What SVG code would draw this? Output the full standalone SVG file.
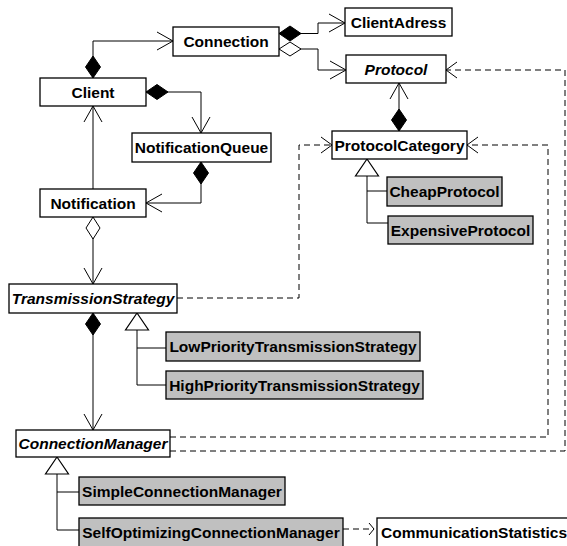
<svg xmlns="http://www.w3.org/2000/svg" width="567" height="546" viewBox="0 0 567 546">
<style>
.box{fill:#fff;stroke:#000;stroke-width:1.3}
.sub{fill:#c0c0c0;stroke:#000;stroke-width:1.3}
text{font-family:"Liberation Sans",Arial,sans-serif;font-weight:bold;font-size:15.5px;fill:#000;text-anchor:middle}
.it{font-style:italic}
.ln{fill:none;stroke:#000;stroke-width:1}
.dash{fill:none;stroke:#000;stroke-width:1;stroke-dasharray:6,4}
</style>
<defs>
<marker id="arr" markerUnits="userSpaceOnUse" markerWidth="20" markerHeight="24" viewBox="-18 -11 20 22" refX="0" refY="0" orient="auto" overflow="visible">
<path d="M-16,-9 L0,0 L-16,9" fill="none" stroke="#000" stroke-width="1"/>
</marker>
<marker id="darr" markerUnits="userSpaceOnUse" markerWidth="14" markerHeight="20" viewBox="-13 -10 14 20" refX="0" refY="0" orient="auto" overflow="visible">
<path d="M-11,-8 L0,0 L-11,8" fill="none" stroke="#000" stroke-width="1"/>
</marker>
<marker id="sarr" markerUnits="userSpaceOnUse" markerWidth="8" markerHeight="14" viewBox="-7 -7 8 14" refX="0" refY="0" orient="auto" overflow="visible">
<path d="M-5,-6 L0,0 L-5,6" fill="none" stroke="#000" stroke-width="1"/>
</marker>
<marker id="dia" markerUnits="userSpaceOnUse" markerWidth="24" markerHeight="16" viewBox="-1 -8 24 16" refX="0" refY="0" orient="auto" overflow="visible">
<path d="M0,0 L11,-7.5 L22,0 L11,7.5 Z" fill="#000" stroke="#000" stroke-width="1"/>
</marker>
<marker id="odia" markerUnits="userSpaceOnUse" markerWidth="24" markerHeight="16" viewBox="-1 -8 24 16" refX="0" refY="0" orient="auto" overflow="visible">
<path d="M0,0 L11,-7 L22,0 L11,7 Z" fill="#fff" stroke="#000" stroke-width="1"/>
</marker>
<marker id="tri" markerUnits="userSpaceOnUse" markerWidth="20" markerHeight="26" viewBox="-1 -13 20 26" refX="0" refY="0" orient="auto" overflow="visible">
<path d="M0,0 L17,-11.5 L17,11.5 Z" fill="#fff" stroke="#000" stroke-width="1.2"/>
</marker>
</defs>
<g id="connectors">
<path class="ln" d="M93,78 V41 H173" marker-start="url(#dia)" marker-end="url(#arr)"/>
<path class="ln" d="M146,92 H201 V133" marker-start="url(#dia)" marker-end="url(#arr)"/>
<path class="ln" d="M201,162 V203 H146" marker-start="url(#dia)" marker-end="url(#arr)"/>
<path class="ln" d="M93,189 V106" marker-end="url(#arr)"/>
<path class="ln" d="M93,217 V284" marker-start="url(#odia)" marker-end="url(#arr)"/>
<path class="ln" d="M279,33.5 H318 V23 H345" marker-start="url(#dia)" marker-end="url(#arr)"/>
<path class="ln" d="M279,49 H318 V70 H346" marker-start="url(#odia)" marker-end="url(#arr)"/>
<path class="ln" d="M399,131 V83" marker-start="url(#dia)" marker-end="url(#arr)"/>
<path class="ln" d="M93,313 V430" marker-start="url(#dia)" marker-end="url(#arr)"/>
<path class="dash" d="M177,298 H299 V145 H332" marker-end="url(#darr)"/>
<path class="dash" d="M170,451 H565 V70 H446" marker-end="url(#darr)"/>
<path class="dash" d="M170,437 H548 V145 H467" marker-end="url(#darr)"/>
<path class="dash" d="M343,529 H374" marker-end="url(#sarr)"/>
<path class="ln" d="M137,313 V385 H166" marker-start="url(#tri)"/>
<path class="ln" d="M137,348 H166"/>
<path class="ln" d="M57,457 V530 H79" marker-start="url(#tri)"/>
<path class="ln" d="M57,492 H79"/>
<path class="ln" d="M367,159 V223 H388" marker-start="url(#tri)"/>
<path class="ln" d="M367,191 H387"/>
</g>
<g id="Connection"><rect class="box" x="173" y="27" width="106" height="29"/><text x="226" y="47">Connection</text></g>
<g id="ClientAdress"><rect class="box" x="345" y="8" width="107" height="28"/><text x="398.5" y="28">ClientAdress</text></g>
<g id="Protocol"><rect class="box" x="346" y="55" width="100" height="28"/><text class="it" x="396" y="75">Protocol</text></g>
<g id="Client"><rect class="box" x="40" y="78" width="106" height="28"/><text x="93" y="98">Client</text></g>
<g id="NotificationQueue"><rect class="box" x="132" y="133" width="139" height="29"/><text x="201.5" y="153">NotificationQueue</text></g>
<g id="ProtocolCategory"><rect class="box" x="332" y="131" width="135" height="28"/><text x="399.5" y="151">ProtocolCategory</text></g>
<g id="CheapProtocol"><rect class="sub" x="387" y="177" width="115" height="29"/><text x="444.5" y="197">CheapProtocol</text></g>
<g id="ExpensiveProtocol"><rect class="sub" x="388" y="216" width="145" height="28"/><text x="460.5" y="236">ExpensiveProtocol</text></g>
<g id="Notification"><rect class="box" x="40" y="189" width="106" height="28"/><text x="93" y="209">Notification</text></g>
<g id="TransmissionStrategy"><rect class="box" x="9" y="284" width="168" height="29"/><text class="it" x="93" y="304">TransmissionStrategy</text></g>
<g id="LowPriorityTransmissionStrategy"><rect class="sub" x="166" y="332" width="254" height="29"/><text x="293" y="352">LowPriorityTransmissionStrategy</text></g>
<g id="HighPriorityTransmissionStrategy"><rect class="sub" x="166" y="371" width="257" height="28"/><text x="294.5" y="391">HighPriorityTransmissionStrategy</text></g>
<g id="ConnectionManager"><rect class="box" x="16" y="430" width="154" height="27"/><text class="it" x="93" y="449">ConnectionManager</text></g>
<g id="SimpleConnectionManager"><rect class="sub" x="79" y="477" width="206" height="28"/><text x="182" y="497">SimpleConnectionManager</text></g>
<g id="SelfOptimizingConnectionManager"><rect class="sub" x="79" y="518" width="264" height="32"/><text x="211" y="538">SelfOptimizingConnectionManager</text></g>
<g id="CommunicationStatistics"><rect class="box" x="377" y="518" width="200" height="32"/><text x="381" y="538" style="text-anchor:start">CommunicationStatistics</text></g>
</svg>
